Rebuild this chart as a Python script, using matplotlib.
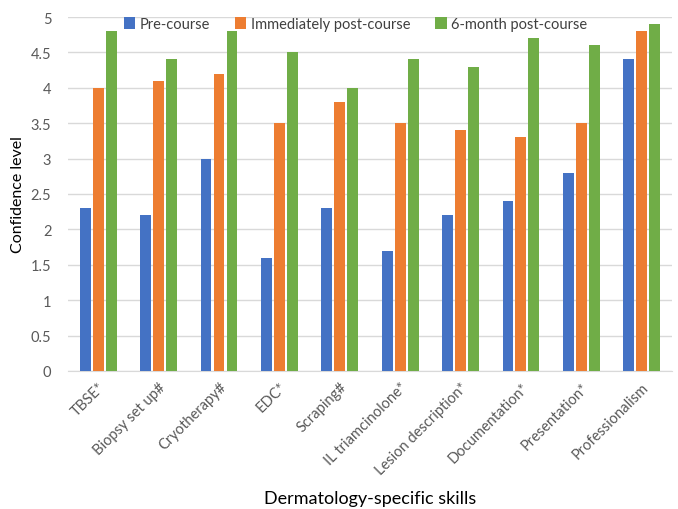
import matplotlib
matplotlib.use('Agg')
import matplotlib.pyplot as plt
import numpy as np

plt.rcParams['font.family'] = ['Lato', 'DejaVu Sans']

# 数据
skills = ['TBSE*', 'Biopsy set up#', 'Cryotherapy#', 'EDC*', 'Scraping#',
          'IL triamcinolone*', 'Lesion description*', 'Documentation*',
          'Presentation*', 'Professionalism']
pre_course = [2.3, 2.2, 3.0, 1.6, 2.3, 1.7, 2.2, 2.4, 2.8, 4.4]
post_course = [4.0, 4.1, 4.2, 3.5, 3.8, 3.5, 3.4, 3.3, 3.5, 4.8]
six_month = [4.8, 4.4, 4.8, 4.5, 4.0, 4.4, 4.3, 4.7, 4.6, 4.9]
series_names = ['Pre-course', 'Immediately post-course', '6-month post-course']
colors = ['#4472C4', '#ED7D31', '#70AD47']

fig = plt.figure(figsize=(6.78, 5.1), dpi=100)
ax = fig.add_axes([0.1003, 0.2706, 0.8907, 0.6941])

x = np.arange(len(skills))
step = 0.215
w = 0.18
for i, (vals, name, c) in enumerate(zip([pre_course, post_course, six_month], series_names, colors)):
    ax.bar(x + (i - 1) * step, vals, width=w, color=c, label=name, zorder=3)

ax.set_xlim(-0.5, len(skills) - 0.5)
ax.set_ylim(0, 5)
ax.set_yticks(np.arange(0, 5.01, 0.5))
ax.set_yticklabels(['0', '0.5', '1', '1.5', '2', '2.5', '3', '3.5', '4', '4.5', '5'])
ax.grid(axis='y', color='#D9D9D9', linewidth=1, zorder=0)
for s in ['top', 'right', 'left']:
    ax.spines[s].set_visible(False)
ax.spines['bottom'].set_color('#D9D9D9')
ax.tick_params(axis='both', length=0, colors='#595959', labelsize=10.5)
ax.tick_params(axis='y', pad=12)
ax.tick_params(axis='x', pad=6)
ax.set_xticks(x)
ax.set_xticklabels(skills, rotation=45, ha='right', rotation_mode='anchor')

ax.set_ylabel('Confidence level', fontsize=11.5, color='black', labelpad=4)
ax.set_xlabel('Dermatology-specific skills', fontsize=13, color='black', labelpad=10)

leg = ax.legend(loc='upper left', bbox_to_anchor=(0.092, 1.0), ncol=3, frameon=False,
                fontsize=10.5, handlelength=0.8, handleheight=0.8, handletextpad=0.3,
                columnspacing=1.7, borderpad=0, borderaxespad=0, labelcolor='#404040')

fig.savefig('out.png', dpi=100)
